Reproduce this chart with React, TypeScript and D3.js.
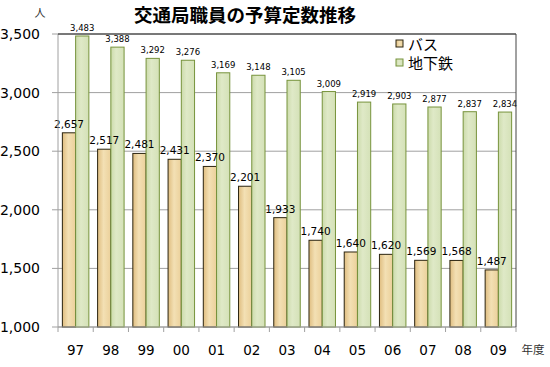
import * as d3 from "d3";

const WIDTH = 550;
const HEIGHT = 367;
const MARGIN = { top: 34, right: 34, bottom: 40, left: 58 };

const years = ["97", "98", "99", "00", "01", "02", "03", "04", "05", "06", "07", "08", "09"];
const busValues = [2657, 2517, 2481, 2431, 2370, 2201, 1933, 1740, 1640, 1620, 1569, 1568, 1487];
const subwayValues = [3483, 3388, 3292, 3276, 3169, 3148, 3105, 3009, 2919, 2903, 2877, 2837, 2834];
const yTicks = [1000, 1500, 2000, 2500, 3000, 3500];
const seriesNames = ["バス", "地下鉄"];

const FONT = "'Noto Sans CJK JP', 'DejaVu Sans', sans-serif";
const fmt = d3.format(",");

export default function App() {
  const innerW = WIDTH - MARGIN.left - MARGIN.right;
  const innerH = HEIGHT - MARGIN.top - MARGIN.bottom;

  const x = d3.scaleBand<string>().domain(years).range([0, innerW]).padding(0);
  const xs = d3
    .scaleBand<string>()
    .domain(["bus", "subway"])
    .range([0, x.bandwidth()])
    .paddingInner(0)
    .paddingOuter(0.33);
  const y = d3.scaleLinear().domain([1000, 3500]).range([innerH, 0]);

  const bw = xs.bandwidth();

  return (
    <svg width={WIDTH} height={HEIGHT} style={{ display: "block", margin: 0, position: "absolute", left: 0, top: 0 }}>
      <defs>
        <linearGradient id="busGrad" x1="0" x2="1" y1="0" y2="0">
          <stop offset="0%" stopColor="#dfbd80" />
          <stop offset="45%" stopColor="#f3e0b4" />
          <stop offset="100%" stopColor="#ebd09a" />
        </linearGradient>
        <linearGradient id="subGrad" x1="0" x2="1" y1="0" y2="0">
          <stop offset="0%" stopColor="#ccdbab" />
          <stop offset="40%" stopColor="#dfe9c7" />
          <stop offset="100%" stopColor="#d4e1b7" />
        </linearGradient>
      </defs>
      <rect width={WIDTH} height={HEIGHT} fill="#fff" />
      <text x={245} y={22} textAnchor="middle" fontFamily={FONT} fontWeight="bold" fontSize={18.5} fill="#000">
        交通局職員の予算定数推移
      </text>
      <text x={40} y={17} textAnchor="middle" fontFamily={FONT} fontSize={11} fill="#333">
        人
      </text>
      <text x={533} y={354} textAnchor="middle" fontFamily={FONT} fontSize={11.5} fill="#333">
        年度
      </text>
      <g transform={`translate(${MARGIN.left},${MARGIN.top})`}>
        {yTicks.map((t) => (
          <g key={t}>
            <line x1={-6} x2={innerW} y1={y(t)} y2={y(t)} stroke="#a0a0a0" strokeWidth={1} />
            <text
              x={-18}
              y={y(t)}
              dy="0.35em"
              textAnchor="end"
              fontFamily="'DejaVu Sans', sans-serif"
              fontSize={14}
              fill="#000"
            >
              {fmt(t)}
            </text>
          </g>
        ))}
        {years.map((yr, i) => (
          <g key={yr} transform={`translate(${x(yr)},0)`}>
            <line x1={0} x2={0} y1={innerH} y2={innerH + 5} stroke="#a0a0a0" />
            <rect
              x={xs("bus")!}
              y={y(busValues[i])}
              width={bw}
              height={innerH - y(busValues[i])}
              fill="url(#busGrad)"
              stroke="#2b2410"
              strokeWidth={1}
            />
            <rect
              x={xs("subway")!}
              y={y(subwayValues[i])}
              width={bw}
              height={innerH - y(subwayValues[i])}
              fill="url(#subGrad)"
              stroke="#77933c"
              strokeWidth={1}
            />
            <text
              x={xs("bus")! + bw / 2}
              y={y(busValues[i]) - 5}
              textAnchor="middle"
              fontFamily="'DejaVu Sans', sans-serif"
              fontSize={10.5}
              fill="#000"
            >
              {fmt(busValues[i])}
            </text>
            <text
              x={xs("subway")! + bw / 2}
              y={y(subwayValues[i]) - 5}
              textAnchor="middle"
              fontFamily="'DejaVu Sans', sans-serif"
              fontSize={8.5}
              fill="#000"
            >
              {fmt(subwayValues[i])}
            </text>
            <text
              x={x.bandwidth() / 2}
              y={innerH + 28}
              textAnchor="middle"
              fontFamily="'DejaVu Sans', sans-serif"
              fontSize={13.5}
              fill="#000"
            >
              {yr}
            </text>
          </g>
        ))}
        <line x1={innerW} x2={innerW} y1={innerH} y2={innerH + 5} stroke="#a0a0a0" />
        <line x1={0} x2={0} y1={0} y2={innerH} stroke="#a0a0a0" />
        <line x1={0} x2={innerW} y1={innerH} y2={innerH} stroke="#a0a0a0" />
        <line x1={0} x2={innerW} y1={0} y2={0} stroke="#222" strokeWidth={1.2} />
        <line x1={innerW} x2={innerW} y1={0} y2={innerH} stroke="#444" strokeWidth={1} />
        <g transform={`translate(${338},${6})`}>
          {seriesNames.map((name, i) => (
            <g key={name} transform={`translate(0,${i * 19})`}>
              <rect
                x={0}
                y={0}
                width={7}
                height={7}
                fill={i === 0 ? "url(#busGrad)" : "url(#subGrad)"}
                stroke={i === 0 ? "#2b2410" : "#77933c"}
              />
              <text x={12} y={4} dy="0.38em" fontFamily={FONT} fontSize={15} fill="#000">
                {name}
              </text>
            </g>
          ))}
        </g>
      </g>
    </svg>
  );
}
